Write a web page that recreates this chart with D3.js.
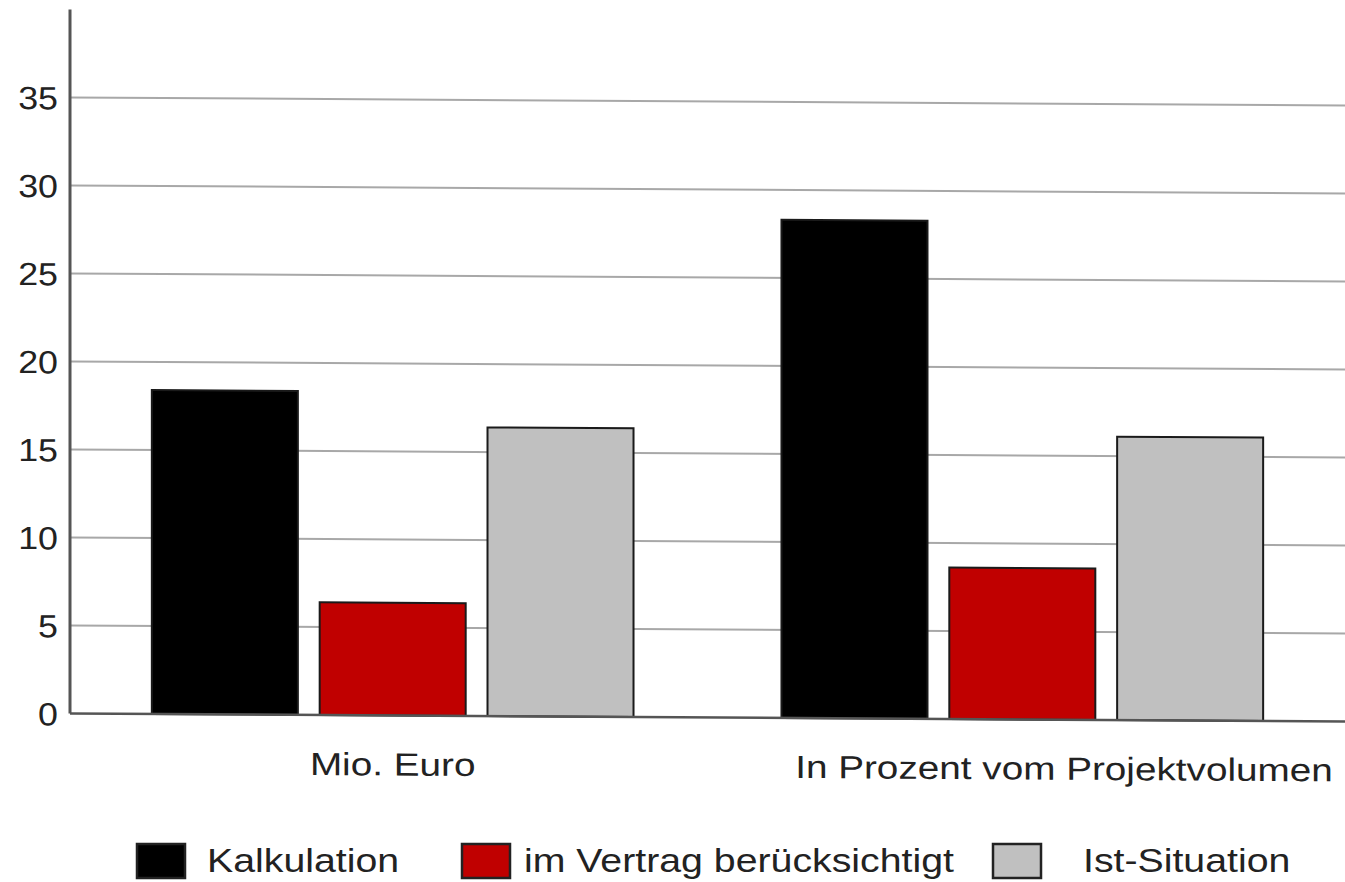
<!DOCTYPE html>
<html>
<head>
<meta charset="utf-8">
<script src="https://cdn.jsdelivr.net/npm/d3@7"></script>
<style>
  body { margin: 0; background: #fff; }
  text { font-family: "Liberation Sans", Arial, sans-serif; fill: #222; }
</style>
</head>
<body>
<div id="chart"></div>
<script>
var categories = ["Mio. Euro", "In Prozent vom Projektvolumen"];
var seriesNames = ["Kalkulation", "im Vertrag berücksichtigt", "Ist-Situation"];
var kalkulation = [18.4, 28.3];
var imVertrag = [6.4, 8.6];
var istSituation = [16.4, 16.1];
var yTicks = [0, 5, 10, 15, 20, 25, 30, 35];

var colors = ["#000000", "#c00000", "#c0c0c0"];

var W = 1345, H = 882;
var margin = {top: 9, right: 0, bottom: 169, left: 70};
var stretch = 1.21;   // text in the source is a bit wide
var legendStretch = 1.19;

var series = [kalkulation, imVertrag, istSituation];
var data = categories.map(function(c, i) {
   return {cat: c, values: series.map(function(s, j) { return {name: seriesNames[j], value: s[i], k: j}; })};
});

var svg = d3.select("#chart").append("svg")
   .attr("width", W)
   .attr("height", H);

// whole plot is slightly tilted in the original
var plot = svg.append("g").attr("transform", "skewY(0.36)");

var x0 = d3.scaleBand()
   .domain(categories)
   .range([margin.left, W - margin.right])
   .paddingInner(0.235)
   .paddingOuter(0.13);

var x1 = d3.scaleBand()
   .domain(seriesNames)
   .range([0, x0.bandwidth()])
   .paddingInner(0.13);

var y = d3.scaleLinear()
   .domain([0, 40])
   .range([H - margin.bottom, margin.top]);

// gridlines
plot.append("g")
   .selectAll("line")
   .data(yTicks.filter(function(d) { return d > 0; }))
   .enter().append("line")
   .attr("x1", margin.left)
   .attr("x2", W)
   .attr("y1", function(d) { return y(d); })
   .attr("y2", function(d) { return y(d); })
   .attr("stroke", "#a8a8a8")
   .attr("stroke-width", 2);

// y labels
plot.append("g")
   .selectAll("text")
   .data(yTicks)
   .enter().append("text")
   .attr("transform", function(d) { return "translate(58," + (y(d) + 12) + ") scale(1.12,1)"; })
   .attr("text-anchor", "end")
   .style("font-size", "32px")
   .text(function(d) { return d; });

// bars
var groups = plot.selectAll(".grp")
   .data(data)
   .enter().append("g")
   .attr("class", "grp")
   .attr("transform", function(d) { return "translate(" + x0(d.cat) + ",0)"; });

groups.selectAll("rect")
   .data(function(d) { return d.values; })
   .enter().append("rect")
   .attr("x", function(d) { return x1(d.name); })
   .attr("y", function(d) { return y(d.value); })
   .attr("width", x1.bandwidth())
   .attr("height", function(d) { return y(0) - y(d.value); })
   .attr("fill", function(d) { return colors[d.k]; })
   .attr("stroke", "#1a1a1a")
   .attr("stroke-width", 2);

// axes lines
plot.append("line")
   .attr("x1", margin.left).attr("x2", W)
   .attr("y1", y(0)).attr("y2", y(0))
   .attr("stroke", "#555").attr("stroke-width", 2.5);

plot.append("line")
   .attr("x1", margin.left).attr("x2", margin.left)
   .attr("y1", y(40)).attr("y2", y(0))
   .attr("stroke", "#555").attr("stroke-width", 3);

// category labels; the last one is pushed to the right edge
plot.append("g")
   .selectAll("text")
   .data(categories)
   .enter().append("text")
   .attr("text-anchor", "middle")
   .style("font-size", "32px")
   .text(function(d) { return d; })
   .each(function(d, i) {
      var w = this.getComputedTextLength() * stretch;
      var cx = x0(d) + x0.bandwidth() / 2;
      if (i === categories.length - 1) cx = W - 12 - w / 2;
      d3.select(this).attr("transform", "translate(" + cx + "," + (y(0) + 60) + ") scale(" + stretch + ",1)");
   });

// legend
var legendX = [137, 462, 993];
var textX = [207, 524, 1083];
var legend = svg.append("g").attr("transform", "translate(0,844)");

legend.selectAll("rect")
   .data(seriesNames)
   .enter().append("rect")
   .attr("x", function(d, i) { return legendX[i]; })
   .attr("y", 0)
   .attr("width", 48)
   .attr("height", 34)
   .attr("fill", function(d, i) { return colors[i]; })
   .attr("stroke", "#222")
   .attr("stroke-width", 2.5);

legend.selectAll("text")
   .data(seriesNames)
   .enter().append("text")
   .attr("transform", function(d, i) { return "translate(" + textX[i] + ",28) scale(" + legendStretch + ",1)"; })
   .style("font-size", "33px")
   .text(function(d) { return d; });
</script>
</body>
</html>
